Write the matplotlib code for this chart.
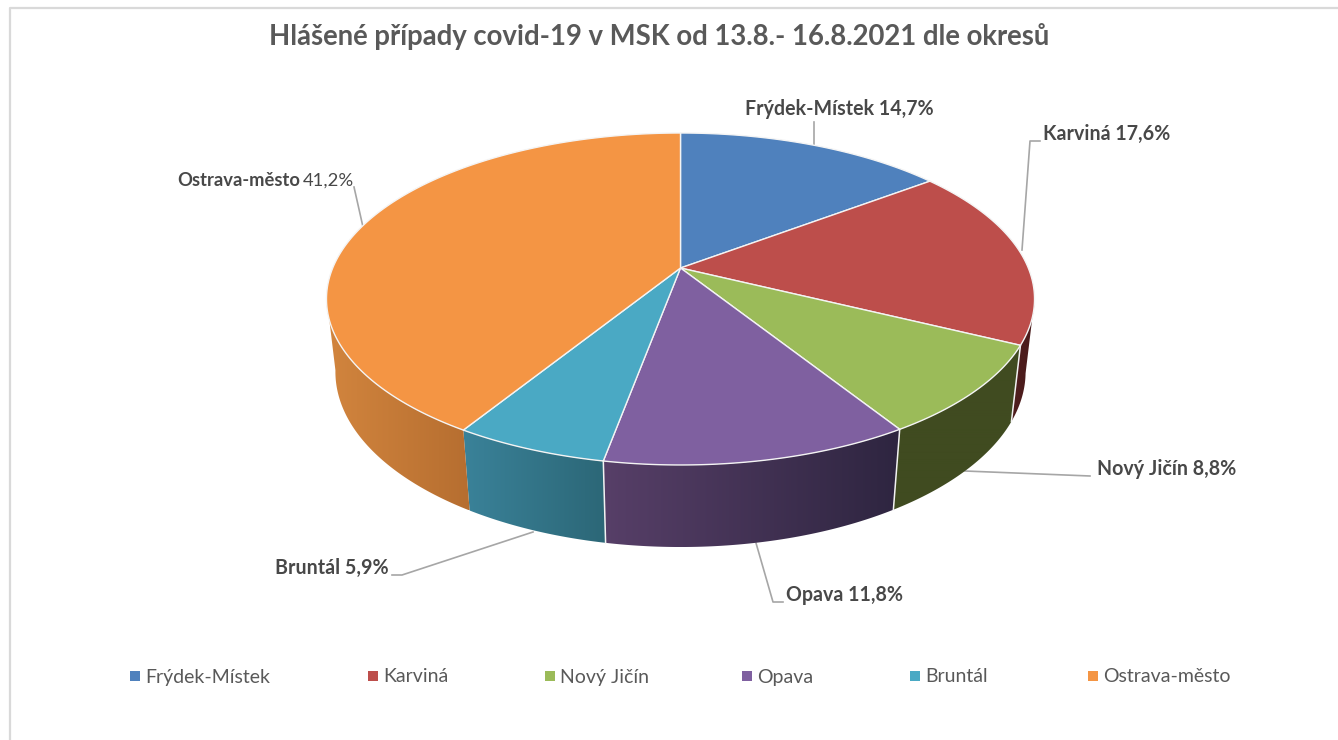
import numpy as np
import matplotlib
matplotlib.use("Agg")
import matplotlib.pyplot as plt
from matplotlib.colors import LinearSegmentedColormap
from matplotlib.patches import Polygon

plt.rcParams['font.family'] = ['Lato', 'DejaVu Sans']

title = "Hlášené případy covid-19 v MSK od 13.8.- 16.8.2021 dle okresů"
districts = ["Frýdek-Místek", "Karviná", "Nový Jičín", "Opava", "Bruntál", "Ostrava-město"]
shares = [14.7, 17.6, 8.8, 11.8, 5.9, 41.2]
pct_labels = ["14,7%", "17,6%", "8,8%", "11,8%", "5,9%", "41,2%"]
colors = ["#4f81bd", "#bd4e4b", "#9bbb59", "#7f60a0", "#4aa9c4", "#f49544"]
# wall colour at the left and right end of each slice
wall_left = ["#2f4d70", "#4f1e1e", "#404b20", "#573f68", "#3a8299", "#d2853e"]
wall_right = ["#2f4d70", "#4a1b1b", "#404b20", "#2e2540", "#2c6777", "#b66e30"]

text_col = "#484848"
line_col = "#a6a6a6"

# pie projection, in pixels
cx, cy = 680.5, 268
bx, ay, persp = 347.8, 160.2, 0.1867
drop, shrink = 73.7, 0.025


def top_rim(deg):
    a = np.radians(deg)
    u, v = np.sin(a), np.cos(a)
    w = 1 + persp * v
    return cx + bx * u / w, cy - ay * v / w


def low_rim(deg):
    a = np.radians(deg)
    u, v = np.sin(a), np.cos(a)
    w = 1 + persp * v + shrink
    return cx + bx * u / w, cy - (ay * v - drop) / w


fig = plt.figure(figsize=(13.38, 7.40), dpi=100)
ax = fig.add_axes([0, 0, 1, 1])

# chart frame
ax.plot([10, 10, 1338], [740, 7.5, 7.5], color="#d9d9d9", lw=1.6, zorder=1)

ends = np.cumsum(shares) / sum(shares) * 360
starts = np.concatenate([[0], ends[:-1]])

# side walls, only the part facing the viewer (rim tangents at about 101 and 260 deg)
ramp = np.linspace(0, 1, 256).reshape(1, -1)
for i in range(len(shares)):
    lo, hi = max(starts[i], 101), min(ends[i], 260)
    if lo >= hi:
        continue
    deg = np.linspace(lo, hi, 120)
    xt, yt = top_rim(deg)
    xb, yb = low_rim(deg)
    outline = np.column_stack([np.r_[xt, xb[::-1]], np.r_[yt, yb[::-1]]])
    clip = Polygon(outline, closed=True, transform=ax.transData, facecolor="none", edgecolor="none")
    ax.add_patch(clip)
    cmap = LinearSegmentedColormap.from_list("wall", [wall_left[i], wall_right[i]])
    ax.imshow(ramp, cmap=cmap, aspect="auto", zorder=2, clip_path=clip,
              extent=(outline[:, 0].min(), outline[:, 0].max(), outline[:, 1].max(), outline[:, 1].min()))

ax.set_xlim(0, 1338)
ax.set_ylim(740, 0)
ax.axis("off")

# white seams between walls
for e in ends[1:4]:
    xt, yt = top_rim(e)
    xb, yb = low_rim(e)
    ax.plot([xt, xb], [yt, yb], color="#f2f2f2", lw=1.1, zorder=3)

# top face
for i in range(len(shares)):
    deg = np.linspace(starts[i], ends[i], 200)
    xt, yt = top_rim(deg)
    ax.fill(np.r_[cx, xt], np.r_[cy, yt], facecolor=colors[i], edgecolor="#f4f4f4",
            lw=1.0, joinstyle="round", zorder=4)

# leader lines
leaders = [
    ([814, 814], [122, 147]),
    ([1040, 1030, 1022], [141, 141, 250]),
    ([965, 1090], [471, 476]),
    ([756, 773, 783], [543, 602, 602]),
    ([533, 402, 392], [532, 575, 575]),
    ([354, 363], [187, 227]),
]
for lx, ly in leaders:
    ax.plot(lx, ly, color=line_col, lw=1.2, zorder=1.5)

# data labels
label_pos = [(839, 109, "center"), (1043, 134, "left"), (1097, 469, "left"),
             (786, 595, "left"), (389, 568, "right")]
for i, (x, y, ha) in enumerate(label_pos):
    ax.text(x, y, districts[i] + " " + pct_labels[i], ha=ha, va="center", fontsize=14.1,
            fontweight="bold", color=text_col, zorder=5)
ax.text(354, 181, pct_labels[5], ha="right", va="center", fontsize=13.3, color=text_col, zorder=5)
ax.text(300, 181, districts[5], ha="right", va="center", fontsize=13.2, fontweight="bold",
        color=text_col, zorder=5)

ax.text(659, 36, title, ha="center", va="center", fontsize=19.85, fontweight="bold", color="#595959")

# legend
legend_x = [135, 372.5, 550, 746.5, 915, 1093]
for x, name, col in zip(legend_x, districts, colors):
    ax.scatter([x], [676], marker="s", s=46, color=col, lw=0)
    ax.text(x + 10.5, 677, name, ha="left", va="center", fontsize=14, color="#595959")

fig.savefig("out.png", dpi=100, facecolor="white")
